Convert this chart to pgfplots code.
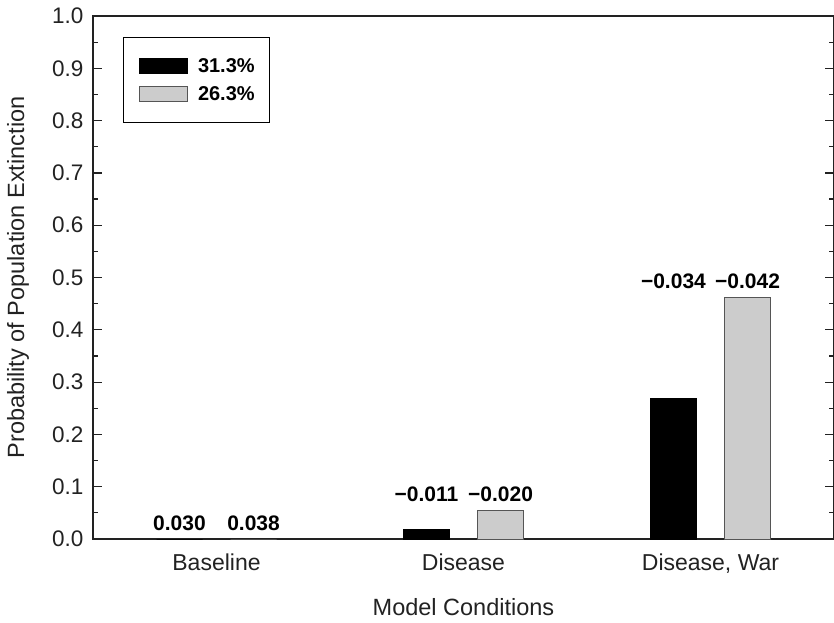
\documentclass[border=0pt]{standalone}
\usepackage{fontspec}
\setmainfont{Liberation Sans}
\usepackage{pgfplots}
\pgfplotsset{compat=1.18}
\definecolor{barGray}{HTML}{CCCCCC}
\definecolor{edgeGray}{HTML}{555555}
\definecolor{axGray}{HTML}{222222}
\begin{document}
\begin{tikzpicture}
\begin{axis}[
  name=ax,
  scale only axis,
  width=741pt, height=523pt,
  xmin=-0.5, xmax=2.5,
  ymin=0, ymax=1,
  axis line style={draw=axGray, line width=1.2pt},
  xtick={0,1,2},
  xticklabels={Baseline,Disease,{Disease, War}},
  x tick style={draw=none},
  xtick pos=bottom,
  ytick={0,0.1,0.2,0.3,0.4,0.5,0.6,0.7,0.8,0.9,1.0},
  minor y tick num=1,
  ytick pos=both,
  yticklabel pos=left,
  tick align=inside,
  major tick length=9pt,
  minor tick length=5pt,
  y tick style={draw=axGray, line width=1.2pt},
  /pgf/number format/assume math mode=true,
  y tick label style={/pgf/number format/fixed,/pgf/number format/fixed zerofill,/pgf/number format/precision=1, xshift=-6pt, font=\fontsize{22.5}{26}\selectfont, text=axGray},
  x tick label style={yshift=-11pt, font=\fontsize{23}{27}\selectfont, text=axGray},
  xlabel={Model Conditions},
  ylabel={Probability of Population Extinction},
  every axis x label/.style={at={(axis description cs:0.5,-0.130)}, anchor=center, font=\fontsize{23.5}{27}\selectfont, text=axGray},
  every axis y label/.style={at={(axis description cs:-0.1012,0.5)}, anchor=center, rotate=90, font=\fontsize{23.5}{27}\selectfont, text=axGray},
  legend style={at={(rel axis cs:0.0405,0.96)}, anchor=north west, draw=black, line width=1pt,
    font=\fontsize{20}{24}\selectfont\bfseries, inner xsep=15pt, inner ysep=14.25pt, row sep=0pt,
    nodes={inner xsep=0pt, inner ysep=0pt}},
  legend cell align=left,
  legend image code/.code={\draw[#1, line width=1pt] (0pt,-7.5pt) rectangle (48pt,7.5pt);
    \path[draw=none, fill=none] (0pt,-14.25pt) rectangle (59pt,14.25pt);},
]
\addplot[ybar, bar width=46pt, bar shift=-37pt, fill=black, draw=black, line width=1pt]
  coordinates {(0,0) (1,0.018) (2,0.268)};
\addlegendentry{31.3\%}
\addplot[ybar, bar width=46pt, bar shift=37pt, fill=barGray, draw=edgeGray, line width=1pt]
  coordinates {(0,0) (1,0.055) (2,0.462)};
\addlegendentry{26.3\%}
\addplot[draw=none, mark=none, forget plot, nodes near coords, point meta=explicit symbolic,
  nodes near coords style={font=\fontsize{21}{24}\selectfont\bfseries, anchor=south, yshift=5pt, text=black}]
  coordinates {(-0.15,0) [0.030] (0.15,0) [0.038] (0.85,0.055) [−0.011] (1.15,0.055) [−0.020] (1.85,0.462) [−0.034] (2.15,0.462) [−0.042]};
\end{axis}
\pgfresetboundingbox
\path ([xshift=-93pt,yshift=-83pt]ax.south west) rectangle ([yshift=16pt]ax.north east);
\end{tikzpicture}
\end{document}
